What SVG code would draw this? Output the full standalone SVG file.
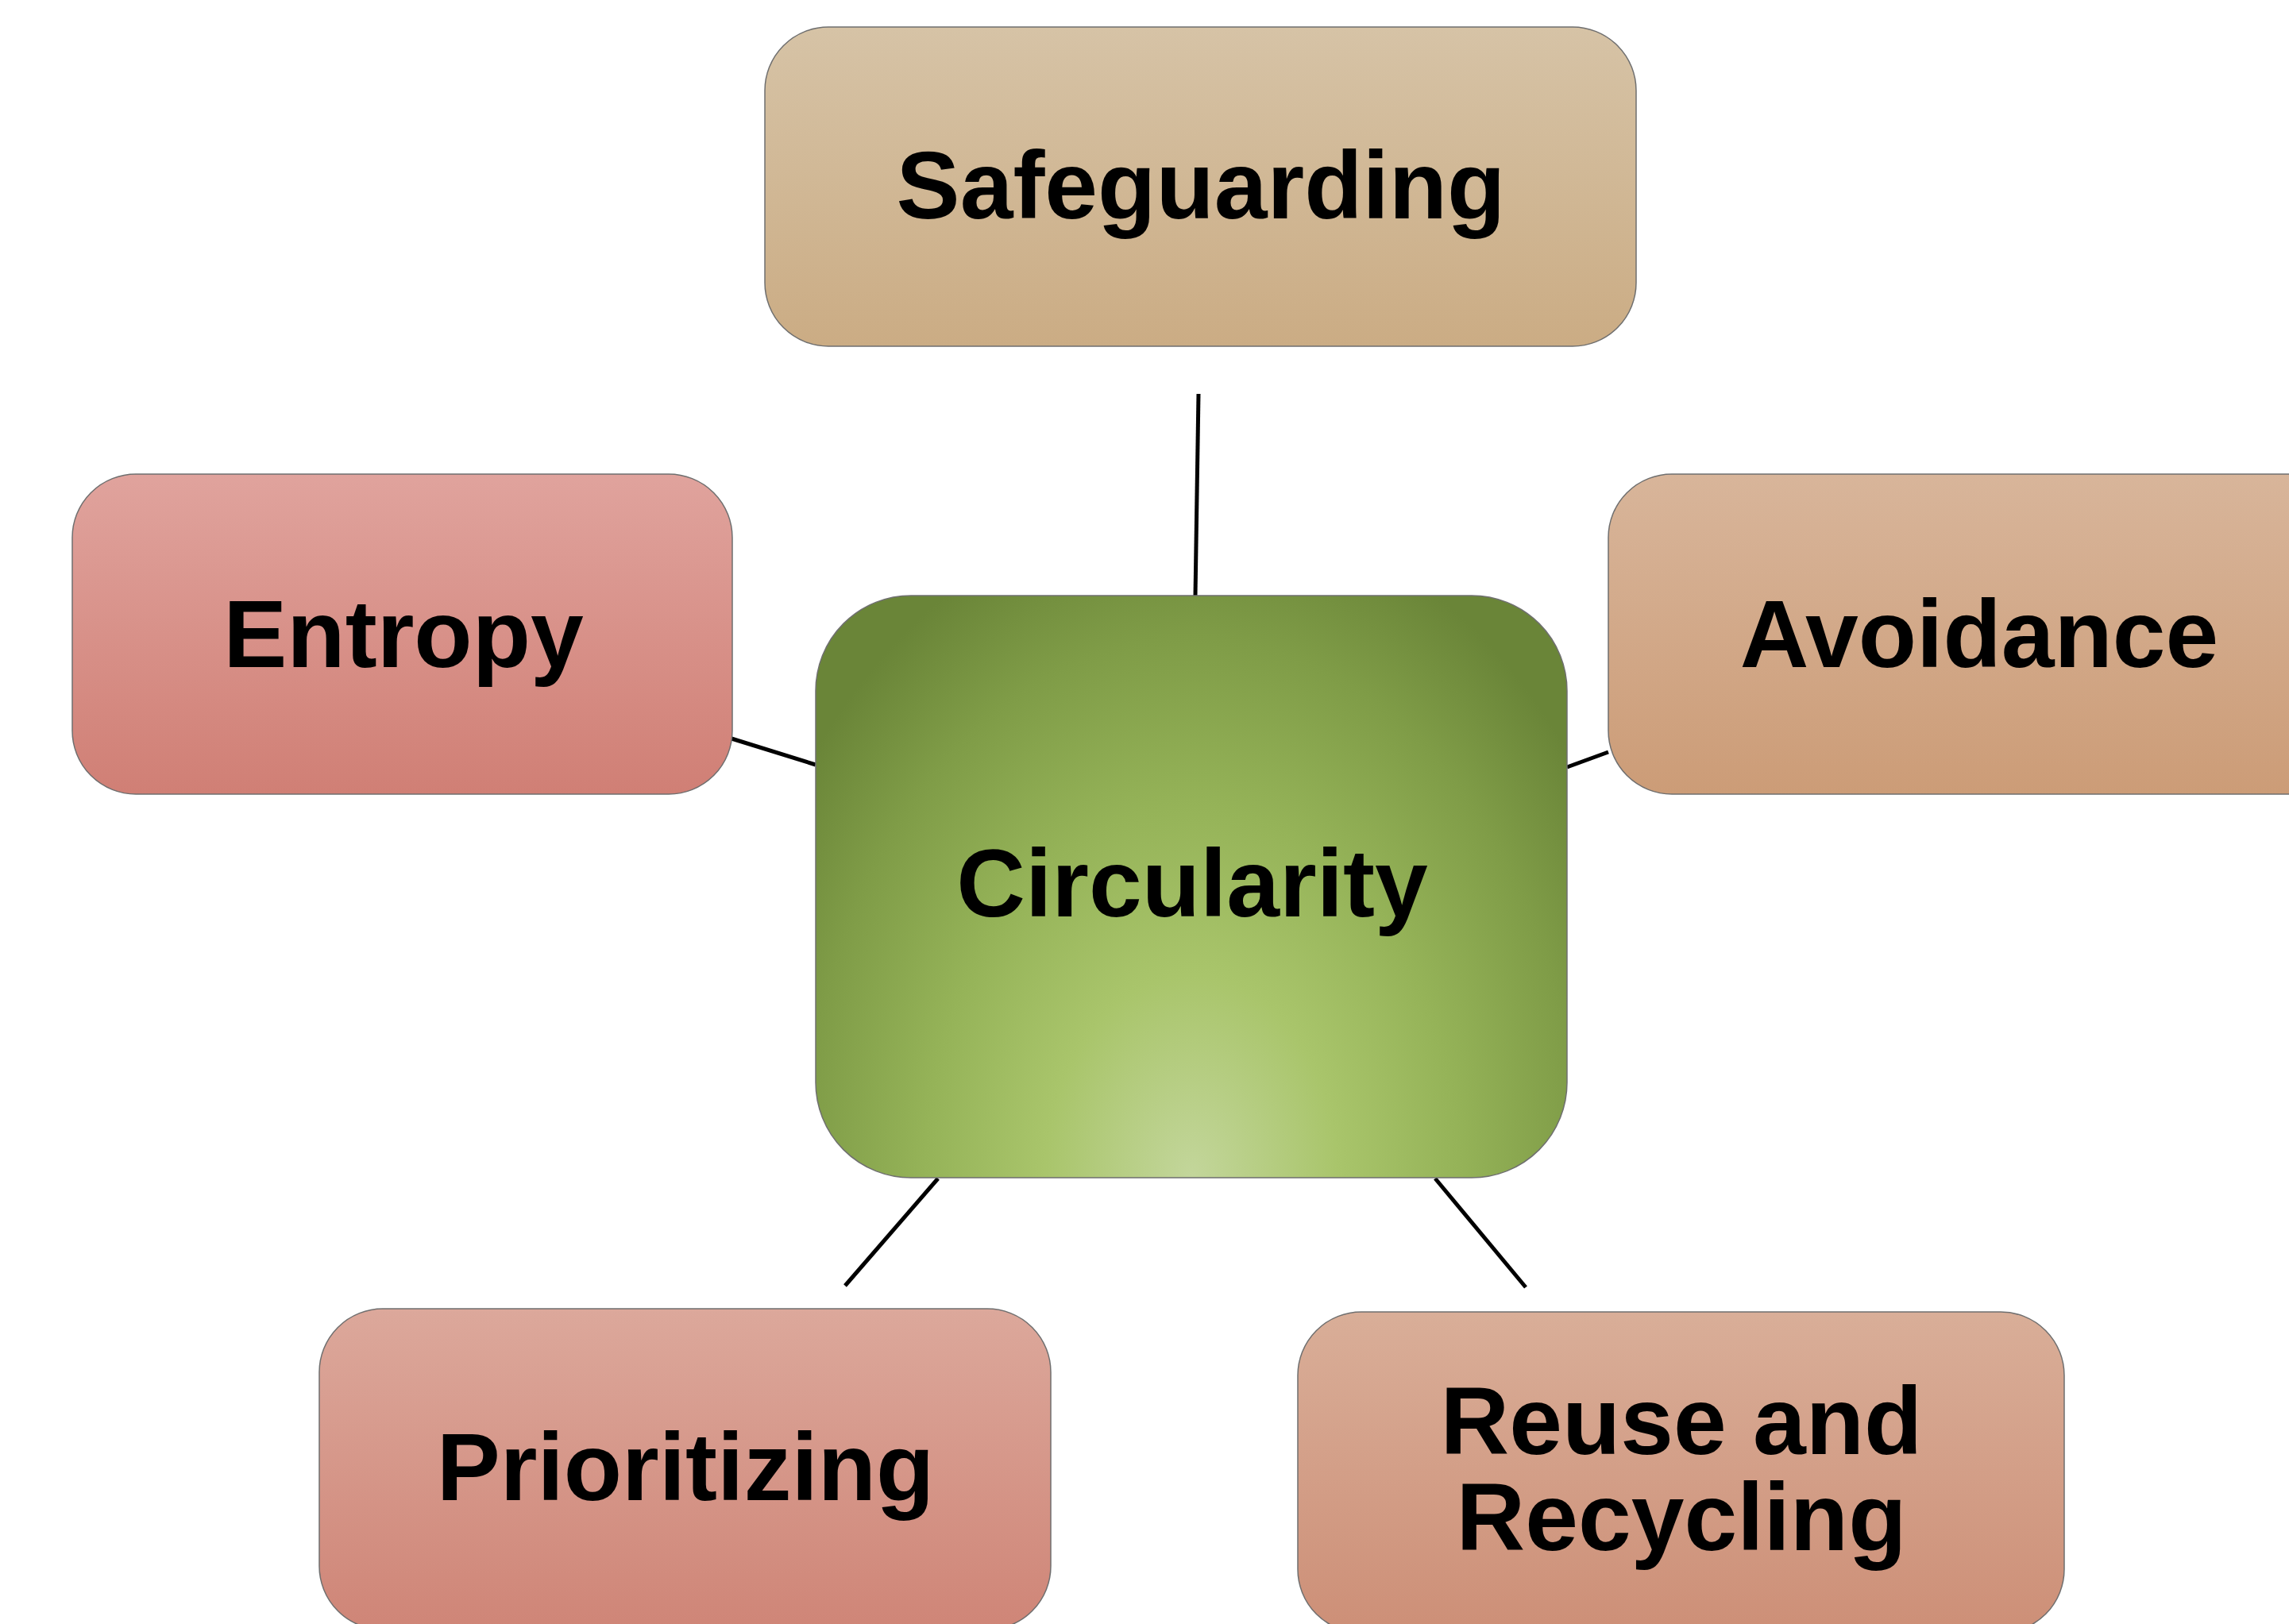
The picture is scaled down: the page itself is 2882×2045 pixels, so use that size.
<svg xmlns="http://www.w3.org/2000/svg" width="2882" height="2045" viewBox="0 0 2882 2045">
<defs>
<linearGradient id="gSafe" x1="0" y1="0" x2="0" y2="1"><stop offset="0" stop-color="#d6c3a6"/><stop offset="1" stop-color="#cbac84"/></linearGradient>
<linearGradient id="gEnt" x1="0" y1="0" x2="0" y2="1"><stop offset="0" stop-color="#e0a39d"/><stop offset="1" stop-color="#d07f75"/></linearGradient>
<linearGradient id="gAvo" x1="0" y1="0" x2="0" y2="1"><stop offset="0" stop-color="#d8b59a"/><stop offset="1" stop-color="#cc9c77"/></linearGradient>
<linearGradient id="gPri" x1="0" y1="0" x2="0" y2="1"><stop offset="0" stop-color="#dca89b"/><stop offset="1" stop-color="#cf8577"/></linearGradient>
<linearGradient id="gReu" x1="0" y1="0" x2="0" y2="1"><stop offset="0" stop-color="#d9ae98"/><stop offset="1" stop-color="#cd8f77"/></linearGradient>
<radialGradient id="gCirc" gradientUnits="userSpaceOnUse" cx="1500" cy="1483" r="850" gradientTransform="translate(1500 1483) scale(0.72 1) translate(-1500 -1483)">
<stop offset="0" stop-color="#c3d69b"/><stop offset="0.3" stop-color="#a9c56b"/><stop offset="0.55" stop-color="#95b358"/><stop offset="0.8" stop-color="#7f9c47"/><stop offset="1" stop-color="#6a8538"/>
</radialGradient>
<style>
.box{stroke:#6f6f6f;stroke-width:1.5}
.lbl{font-family:"Liberation Sans",Arial,sans-serif;font-weight:bold;font-size:120px;fill:#000;text-anchor:middle}
.con{stroke:#000;stroke-width:5;fill:none}
</style>
</defs>
<rect width="2882" height="2045" fill="#fff"/>
<g id="connectors">
<line class="con" x1="1509" y1="496" x2="1505" y2="750"/>
<line class="con" x1="921" y1="930" x2="1027" y2="963"/>
<line class="con" x1="1973" y1="966" x2="2025" y2="947"/>
<line class="con" x1="1181" y1="1484" x2="1064" y2="1619"/>
<line class="con" x1="1807" y1="1484" x2="1921" y2="1621"/>
</g>
<g id="safeguarding">
<rect class="box" x="963" y="34" width="1097" height="402" rx="80" fill="url(#gSafe)"/>
<text class="lbl" x="1512" y="275">Safeguarding</text>
</g>
<g id="entropy">
<rect class="box" x="91" y="597" width="831" height="403" rx="80" fill="url(#gEnt)"/>
<text class="lbl" x="508" y="840">Entropy</text>
</g>
<g id="avoidance">
<rect class="box" x="2025" y="597" width="935" height="403" rx="80" fill="url(#gAvo)"/>
<text class="lbl" x="2492" y="840">Avoidance</text>
</g>
<g id="circularity">
<rect class="box" x="1027" y="750" width="946" height="733" rx="120" fill="url(#gCirc)"/>
<text class="lbl" x="1501" y="1154">Circularity</text>
</g>
<g id="prioritizing">
<rect class="box" x="402" y="1648" width="921" height="404" rx="80" fill="url(#gPri)"/>
<text class="lbl" x="863" y="1889">Prioritizing</text>
</g>
<g id="reuse">
<rect class="box" x="1634" y="1652" width="965" height="404" rx="80" fill="url(#gReu)"/>
<text class="lbl" x="2117" y="1831">Reuse and</text>
<text class="lbl" x="2117" y="1952">Recycling</text>
</g>
</svg>
